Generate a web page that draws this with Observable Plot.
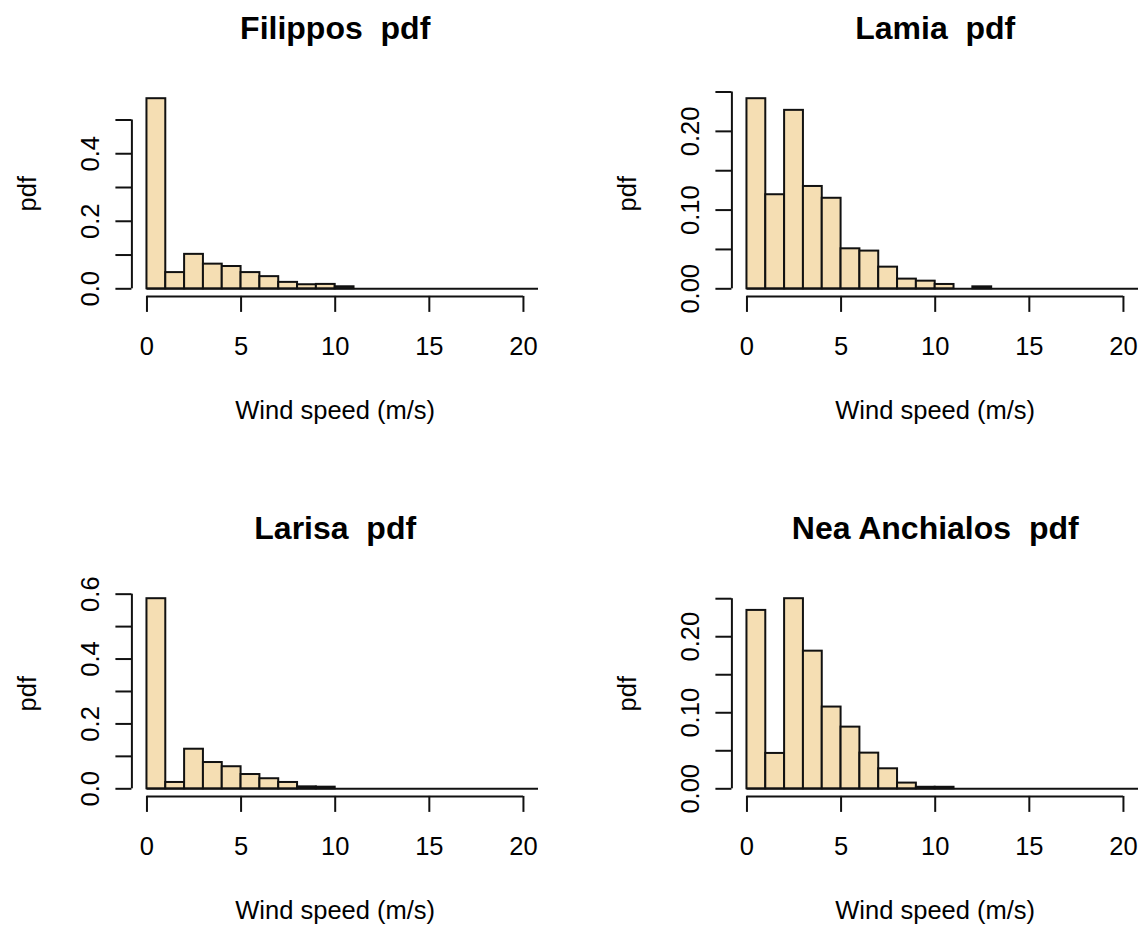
<!DOCTYPE html>
<html><head><meta charset="utf-8">
<script src="https://cdn.jsdelivr.net/npm/d3@7"></script>
<script src="https://cdn.jsdelivr.net/npm/@observablehq/plot@0.6"></script>
<style>
html,body{margin:0;padding:0;background:#fff;}
#wrap{position:relative;width:1139px;height:925px;overflow:hidden;background:#fff;}
.panel{position:absolute;width:600px;}
.panel svg{max-width:none !important;}
svg text{white-space:pre;}
</style></head><body><div id="wrap"></div>
<script>
// Histogram breaks (m/s) and x axis
const breaks = [0,1,2,3,4,5,6,7,8,9,10,11,12,13,14,15,16,17,18,19,20,21];
const xlim = [0, 20];
const xTicks = [0, 5, 10, 15, 20];

// Station names
const stations = ["Filippos", "Lamia", "Larisa", "Nea Anchialos"];

// Density per 1 m/s bin
const filippos = [0.563, 0.048, 0.102, 0.073, 0.066, 0.048, 0.036, 0.019, 0.012, 0.013, 0.006];
const lamia    = [0.2415, 0.1195, 0.2267, 0.130, 0.115, 0.0508, 0.0479, 0.0275, 0.0123, 0.0097, 0.0055, 0, 0.0025];
const larisa   = [0.586, 0.0195, 0.122, 0.081, 0.068, 0.044, 0.031, 0.0195, 0.006, 0.005];
const neaAnch  = [0.2346, 0.0465, 0.25, 0.181, 0.1075, 0.0811, 0.0469, 0.0263, 0.0075, 0.002, 0.002];

// y ticks and labelled ticks
const yTicksA = [0, 0.1, 0.2, 0.3, 0.4, 0.5];
const yLabelsA = [0, 0.2, 0.4];
const yTicksB = [0, 0.05, 0.10, 0.15, 0.20, 0.25];
const yLabelsB = [0, 0.10, 0.20];
const yTicksC = [0, 0.1, 0.2, 0.3, 0.4, 0.5, 0.6];
const yLabelsC = [0, 0.2, 0.4, 0.6];

const FILL = "#F5DEB3", INK = "#111";
const wrap = document.getElementById("wrap");

function panel(name, dens, yTicks, yLabels, digits, left, top, height) {
  const ymax = d3.max(dens);
  const pad = 0.04;
  const xd = [xlim[0] - pad * (xlim[1] - xlim[0]), xlim[1] + pad * (xlim[1] - xlim[0])];
  const yd = [-pad * ymax, ymax * (1 + pad)];
  const bins = dens.map((d, i) => ({x1: breaks[i], x2: breaks[i + 1], y: d})).filter(d => d.y > 0);
  const mt = 90.6, fh = 205.3;
  const txt = {textAnchor: "middle", lineAnchor: "middle"};
  const svg = Plot.plot({
    width: 600, height,
    marginLeft: 131.4, marginRight: 62, marginTop: mt, marginBottom: height - mt - fh,
    x: {domain: xd, axis: null},
    y: {domain: yd, axis: null},
    style: {fontFamily: "'Liberation Sans', Arial, sans-serif", fontSize: "25.5px", background: "transparent", color: "black", overflow: "visible"},
    marks: [
      Plot.ruleY([0], {x1: breaks[0], x2: xd[1], stroke: INK, strokeWidth: 2}),
      Plot.rectY(bins, {x1: "x1", x2: "x2", y1: 0, y2: "y", fill: FILL, stroke: INK, strokeWidth: 2, inset: 0}),
      // x axis
      Plot.ruleY([yd[0]], {x1: xTicks[0], x2: xTicks[xTicks.length - 1], stroke: INK, strokeWidth: 2}),
      Plot.ruleX(xTicks, {x: d => d, y1: yd[0], y2: yd[0], insetBottom: -16, stroke: INK, strokeWidth: 2}),
      Plot.text(xTicks, {...txt, x: d => d, frameAnchor: "bottom", dy: 50, text: d => String(d)}),
      // y axis
      Plot.ruleX([xd[0]], {y1: yTicks[0], y2: yTicks[yTicks.length - 1], stroke: INK, strokeWidth: 2}),
      Plot.ruleY(yTicks, {y: d => d, x1: xd[0], x2: xd[0], insetLeft: -16, stroke: INK, strokeWidth: 2}),
      Plot.text(yLabels, {...txt, y: d => d, frameAnchor: "left", dx: -41, rotate: -90, text: d => d.toFixed(digits)}),
      // titles
      Plot.text([name + "  pdf"], {...txt, frameAnchor: "top", dy: -62.6, fontWeight: "bold", fontSize: 32}),
      Plot.text(["Wind speed (m/s)"], {...txt, frameAnchor: "bottom", dy: 114}),
      Plot.text(["pdf"], {...txt, frameAnchor: "left", dx: -104, rotate: -90})
    ]
  });
  const div = document.createElement("div");
  div.className = "panel";
  div.style.left = left + "px";
  div.style.top = top + "px";
  div.appendChild(svg);
  wrap.appendChild(div);
}

panel(stations[0], filippos, yTicksA, yLabelsA, 1, 0, 0, 500);
panel(stations[1], lamia, yTicksB, yLabelsB, 2, 599.5, 0, 500);
panel(stations[2], larisa, yTicksC, yLabelsC, 1, 0, 500, 425);
panel(stations[3], neaAnch, yTicksB, yLabelsB, 2, 599.5, 500, 425);
</script></body></html>
